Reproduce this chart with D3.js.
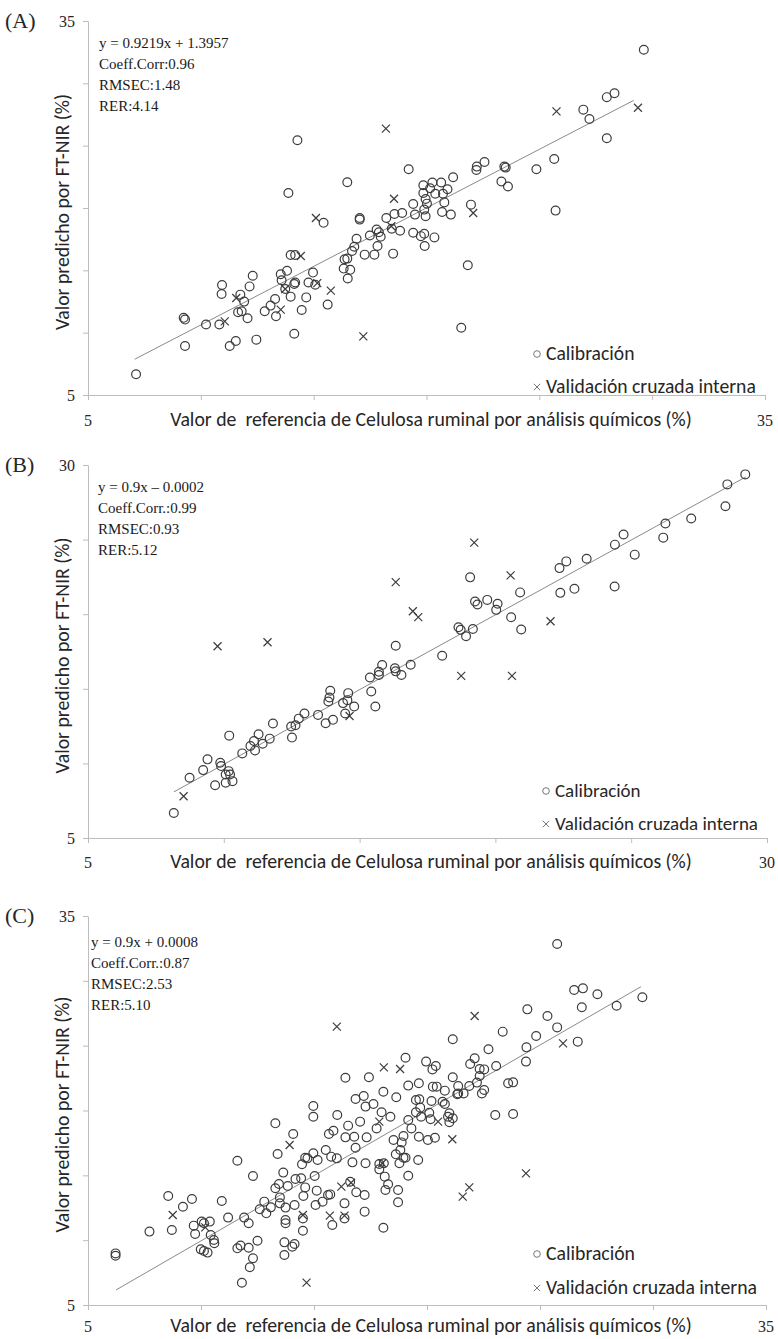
<!DOCTYPE html>
<html>
<head>
<meta charset="utf-8">
<script src="https://cdn.jsdelivr.net/npm/d3@7"></script>
<style>
  body { margin: 0; background: #fff; }
  svg { display: block; }
</style>
</head>
<body>
<svg id="fig" width="778" height="1339"></svg>
<script>
// ---------- data ----------
const panelLetters = ["(A)", "(B)", "(C)"];
const xTitle = "Valor de  referencia de Celulosa ruminal por análisis químicos (%)";
const yTitle = "Valor predicho por FT-NIR (%)";
const legendLabels = ["Calibración", "Validación cruzada interna"];

const statsA = ["y = 0.9219x + 1.3957", "Coeff.Corr:0.96", "RMSEC:1.48", "RER:4.14"];
const statsB = ["y = 0.9x \u2013 0.0002", "Coeff.Corr.:0.99", "RMSEC:0.93", "RER:5.12"];
const statsC = ["y = 0.9x + 0.0008", "Coeff.Corr.:0.87", "RMSEC:2.53", "RER:5.10"];

const ticksA = [5, 10, 15, 20, 25, 30, 35];
const ticksB = [5, 10, 15, 20, 25, 30];
const ticksC = [5, 10, 15, 20, 25, 30, 35];

// fitted line end points [reference, predicted]
const trendA = [[7.07, 7.87], [29.18, 28.63]];
const trendB = [[8.16, 8.09], [29.22, 29.20]];
const trendC = [[6.24, 6.16], [29.47, 29.55]];

// (A) calibration set [reference, predicted]
const calibA = [
  [29.63,32.69],[27.99,28.89],[28.33,29.21],[26.95,27.89],[27.22,27.14],[27.99,25.60],[25.66,23.93],
  [24.87,23.11],[25.72,19.79],[23.45,23.32],[23.51,23.24],[23.32,22.12],[23.61,21.73],[22.23,23.32],
  [22.21,23.05],[22.57,23.69],[21.18,22.47],[20.65,22.04],[20.26,22.04],[19.86,21.83],[20.16,21.59],
  [20.93,21.51],[20.73,21.14],[20.39,21.14],[19.86,21.20],[19.96,20.72],[20.02,20.35],[20.79,20.45],
  [19.41,20.32],[19.90,19.87],[19.49,19.47],[19.96,19.34],[20.69,19.68],[21.08,19.47],[21.97,20.27],
  [19.41,18.01],[19.75,17.74],[19.90,17.93],[19.92,16.95],[20.35,17.64],[19.21,23.11],[18.92,19.60],
  [18.58,19.52],[18.22,19.20],[18.46,18.33],[18.83,18.17],[18.52,16.34],[17.97,17.69],[17.79,18.28],
  [17.89,18.06],[17.83,16.95],[17.49,17.80],[17.69,16.26],[17.26,16.26],[17.04,19.20],[17.04,19.07],
  [16.90,17.53],[16.80,16.89],[16.70,16.55],[16.49,15.94],[16.37,15.89],[16.33,15.14],[16.62,15.04],
  [16.51,14.35],[16.49,22.07],[15.44,18.81],[14.97,14.82],[14.77,14.03],[15.07,13.84],[14.67,12.83],
  [15.62,12.25],[14.28,25.44],[13.88,21.20],[13.98,16.23],[14.18,16.23],[13.82,14.96],[13.54,14.69],
  [13.58,14.21],[14.18,14.03],[14.14,13.90],[13.74,13.50],[13.98,12.89],[13.29,12.70],[13.09,12.17],
  [13.33,11.32],[12.83,11.72],[14.47,11.82],[14.14,9.91],[12.30,14.56],[12.16,13.71],[11.75,13.05],
  [11.92,12.49],[11.65,11.64],[11.81,11.72],[12.07,11.16],[10.94,13.82],[10.92,13.10],[10.82,10.66],
  [10.23,10.66],[9.24,11.19],[9.30,11.05],[9.30,8.93],[11.28,8.93],[11.55,9.33],[12.46,9.44],
  [7.13,6.67],[21.83,15.41],[21.54,10.39]
];
// (A) internal cross validation
const validA = [
  [29.37,28.04],[25.76,27.75],[18.20,26.37],[18.56,20.74],[15.10,19.20],[22.07,19.60],[18.44,18.54],
  [14.43,16.15],[15.16,13.98],[15.76,13.37],[13.74,13.50],[11.57,12.78],[13.54,11.85],[11.06,10.90],
  [17.20,9.70]
];

// (B) calibration set
const calibB = [
  [29.20,29.37],[28.54,28.70],[28.47,27.24],[27.21,26.41],[26.26,26.08],[26.18,25.13],[24.72,25.34],
  [24.40,24.66],[25.13,23.99],[24.39,21.86],[23.36,23.72],[22.61,23.54],[22.36,23.09],[22.91,21.70],
  [22.39,21.43],[20.91,21.46],[20.58,19.80],[20.95,18.97],[20.08,20.70],[20.03,20.29],[19.70,20.96],
  [19.25,20.85],[19.34,20.65],[19.07,22.47],[19.17,19.01],[18.64,19.13],[18.72,18.95],[18.92,18.52],
  [18.04,17.22],[16.88,16.61],[16.33,17.89],[16.30,16.37],[16.33,16.17],[16.54,15.92],[15.83,16.59],
  [15.71,16.14],[15.71,15.92],[15.38,15.76],[15.43,14.82],[15.58,13.81],[14.58,14.71],[14.55,14.24],
  [14.80,13.81],[14.39,14.04],[14.47,13.34],[13.92,14.87],[13.89,14.42],[13.85,14.15],[14.02,12.92],
  [13.75,12.69],[13.47,13.25],[12.97,13.34],[12.76,13.00],[12.64,12.56],[12.48,12.47],[12.51,11.73],
  [11.81,12.67],[11.69,11.66],[11.43,11.32],[11.28,11.95],[11.11,11.50],[11.15,10.87],[10.98,11.17],
  [10.68,10.67],[10.20,11.86],[9.40,10.27],[9.24,9.55],[8.74,9.04],[9.87,10.04],[9.90,9.82],
  [10.07,9.26],[10.18,9.48],[10.23,9.26],[10.07,8.70],[10.32,8.81],[9.68,8.54],[8.16,6.68]
];
// (B) internal cross validation
const validB = [
  [19.22,24.80],[20.56,22.60],[16.33,22.15],[16.96,20.20],[17.16,19.80],[22.03,19.53],[11.61,18.12],
  [9.77,17.85],[18.74,15.87],[20.61,15.87],[14.63,13.18],[8.52,7.80]
];

// (C) calibration set
const calibC = [
  [25.76,32.84],[26.51,29.29],[26.90,29.42],[27.54,28.96],[29.53,28.73],[26.85,27.96],[28.39,28.08],
  [24.44,27.80],[25.33,27.29],[25.76,26.41],[23.35,26.08],[24.83,25.75],[24.40,24.87],[26.67,25.31],
  [24.38,23.77],[22.72,24.72],[23.06,23.43],[21.14,25.49],[22.11,24.02],[21.91,23.59],[22.33,23.20],
  [22.53,23.17],[22.33,22.66],[22.21,22.15],[21.87,21.89],[22.53,21.58],[22.43,21.32],[23.59,22.10],
  [23.81,22.17],[23.02,19.65],[23.81,19.73],[21.14,22.56],[21.38,21.89],[21.38,21.32],[21.62,21.32],
  [21.34,21.25],[20.79,21.53],[20.43,21.84],[20.26,21.84],[20.69,20.68],[20.79,20.50],[20.99,19.78],
  [21.14,19.40],[20.99,19.09],[20.93,19.52],[19.96,23.77],[20.39,23.43],[20.24,23.17],[19.64,22.10],
  [19.17,21.92],[19.51,20.81],[19.66,20.86],[20.20,20.73],[19.51,19.86],[19.74,19.52],[20.10,19.83],
  [20.16,19.32],[19.70,20.22],[19.31,18.62],[19.64,17.98],[20.04,17.72],[20.35,17.90],[19.05,24.07],
  [18.64,21.02],[18.07,21.45],[17.99,19.86],[18.38,19.52],[19.17,19.27],[18.96,18.03],[18.88,17.54],
  [18.52,17.72],[18.82,16.95],[19.05,16.36],[18.96,16.36],[18.62,16.62],[18.78,15.93],[19.61,16.18],
  [17.43,22.56],[17.20,21.12],[16.84,20.89],[17.28,20.30],[17.63,20.50],[17.04,19.14],[17.77,18.62],
  [17.33,17.93],[16.78,17.98],[16.51,18.83],[16.39,17.93],[16.84,17.13],[17.28,15.93],[16.70,16.00],
  [17.89,15.87],[18.09,15.93],[17.89,15.46],[18.13,14.90],[18.28,14.31],[18.16,13.87],[18.72,13.87],
  [18.72,12.92],[19.17,14.97],[16.87,13.69],[16.60,14.51],[17.24,13.48],[17.24,12.20],[16.35,12.84],
  [16.35,11.68],[18.07,10.96],[16.39,22.53],[16.03,19.65],[15.86,18.44],[15.66,18.19],[15.52,16.95],
  [15.76,16.44],[16.01,16.31],[14.97,20.35],[14.97,19.52],[14.97,16.70],[15.16,16.18],[14.71,16.31],
  [14.61,16.36],[14.47,15.85],[15.03,14.95],[14.61,14.07],[15.12,13.82],[14.53,13.41],[15.62,13.48],
  [15.72,13.53],[15.38,12.97],[15.07,12.71],[15.81,11.17],[14.51,11.68],[14.51,10.73],[14.08,18.19],
  [13.29,19.01],[13.39,16.65],[14.43,14.77],[14.18,14.72],[13.64,15.21],[13.45,14.33],[13.29,14.00],
  [13.49,13.30],[13.84,14.18],[13.74,12.51],[14.14,12.71],[13.74,11.56],[13.74,11.30],[13.49,12.84],
  [12.89,12.07],[13.09,12.53],[12.60,12.38],[12.80,12.97],[12.30,14.95],[11.61,16.13],[11.91,11.74],
  [12.11,11.30],[12.50,9.96],[11.75,9.58],[11.61,9.37],[12.11,9.42],[12.30,8.60],[12.16,7.91],
  [11.81,6.72],[13.69,9.83],[14.14,9.70],[14.04,9.50],[13.69,8.86],[10.92,13.02],[11.20,11.74],
  [10.57,10.01],[10.59,9.76],[10.39,11.43],[10.43,10.40],[10.03,11.43],[10.13,11.30],[9.68,11.12],
  [9.74,10.48],[9.99,9.29],[10.13,9.16],[10.29,9.04],[8.55,13.41],[9.20,12.58],[9.60,13.17],
  [8.71,10.78],[7.72,10.66],[6.22,8.98],[6.22,8.80]
];
// (C) internal cross validation
const validC = [
  [16.01,26.47],[22.11,27.29],[26.02,25.18],[18.09,23.33],[18.81,23.20],[17.89,19.14],[20.49,19.14],
  [21.12,17.78],[18.02,15.93],[13.92,17.34],[16.64,14.43],[16.21,14.13],[24.38,15.15],[21.87,14.07],
  [21.58,13.36],[15.70,11.89],[16.35,11.89],[14.51,11.94],[8.75,11.94],[10.19,10.99],[14.67,6.72]
];

// ---------- drawing ----------
const svg = d3.select("#fig");
const serif = "'Liberation Serif','Times New Roman',serif";
const sans = "Carlito, Lato, 'Open Sans', sans-serif";
const axisColor = "#bdbdbd";
const markColor = "#3c3c3c";
const textColor = "#262626";

// scale a text element's font size so it spans the given width
function fitWidth(sel, width) {
  const fs = parseFloat(sel.attr("font-size"));
  const w = sel.node().getComputedTextLength();
  if (w > 0) sel.attr("font-size", (fs * width / w).toFixed(2));
  return sel;
}

const panels = [
  { letter: panelLetters[0], ticks: ticksA, stats: statsA, trend: trendA, calib: calibA, valid: validA,
    left: 88, right: 765, top: 21, bottom: 395, statsTop: 43, statsX: 99,
    xLabelGap: 25, legendY: [353, 386], legendX: 537 },
  { letter: panelLetters[1], ticks: ticksB, stats: statsB, trend: trendB, calib: calibB, valid: validB,
    left: 88, right: 767, top: 465, bottom: 838, statsTop: 487, statsX: 98,
    xLabelGap: 24, legendY: [790, 823], legendX: 546 },
  { letter: panelLetters[2], ticks: ticksC, stats: statsC, trend: trendC, calib: calibC, valid: validC,
    left: 88, right: 766, top: 916, bottom: 1305, statsTop: 942, statsX: 91,
    xLabelGap: 21, legendY: [1253, 1287], legendX: 537 }
];

panels.forEach(p => {
  const lo = p.ticks[0], hi = p.ticks[p.ticks.length - 1];
  const x = d3.scaleLinear().domain([lo, hi]).range([p.left, p.right]);
  const y = d3.scaleLinear().domain([lo, hi]).range([p.bottom, p.top]);
  const g = svg.append("g");

  // axes: light grey lines with outward ticks, labels only at the ends
  const yAxis = g.append("g").attr("transform", `translate(${p.left},0)`)
    .call(d3.axisLeft(y).tickValues(p.ticks).tickSize(5).tickSizeOuter(0).tickFormat(""));
  const xAxis = g.append("g").attr("transform", `translate(0,${p.bottom})`)
    .call(d3.axisBottom(x).tickValues(p.ticks).tickSize(5).tickSizeOuter(0).tickFormat(""));
  [yAxis, xAxis].forEach(a => {
    a.select(".domain").attr("stroke", axisColor).attr("stroke-width", 1);
    a.selectAll(".tick line").attr("stroke", axisColor).attr("stroke-width", 1);
  });

  const endLabels = g.append("g").attr("font-family", serif).attr("font-size", 16).attr("fill", textColor);
  [lo, hi].forEach(v => {
    endLabels.append("text").attr("x", p.left - 13).attr("y", y(v)).attr("dy", "0.35em")
      .attr("text-anchor", "end").text(v);
    endLabels.append("text").attr("x", x(v)).attr("y", p.bottom + p.xLabelGap).attr("dy", "0.35em")
      .attr("text-anchor", "middle").text(v);
  });

  // panel letter
  g.append("text").attr("x", 5).attr("y", p.top).attr("dy", "0.33em")
    .attr("font-family", serif).attr("font-size", 22).attr("fill", textColor).text(p.letter);

  // axis titles
  const xt = g.append("text").attr("x", 431).attr("y", p.bottom + p.xLabelGap).attr("dy", "0.32em")
    .attr("text-anchor", "middle").attr("font-family", sans).attr("font-size", 17)
    .attr("fill", textColor).style("white-space", "pre").text(xTitle);
  fitWidth(xt, 522);
  g.append("text")
    .attr("transform", `translate(62,${(p.top + p.bottom) / 2 + 4}) rotate(-90)`)
    .attr("text-anchor", "middle").attr("dy", "0.35em")
    .attr("font-family", sans).attr("font-size", xt.attr("font-size"))
    .attr("fill", textColor).text(yTitle);

  // regression line
  g.append("line")
    .attr("x1", x(p.trend[0][0])).attr("y1", y(p.trend[0][1]))
    .attr("x2", x(p.trend[1][0])).attr("y2", y(p.trend[1][1]))
    .attr("stroke", "#8a8a8a").attr("stroke-width", 1);

  // calibration points
  g.append("g").selectAll("circle").data(p.calib).join("circle")
    .attr("cx", d => x(d[0])).attr("cy", d => y(d[1])).attr("r", 4.4)
    .attr("fill", "none").attr("stroke", markColor).attr("stroke-width", 1.2);

  // cross-validation points
  const cross = (sel, s) => sel.attr("d", d => {
    const cx = x(d[0]), cy = y(d[1]);
    return `M${cx - s},${cy - s}L${cx + s},${cy + s}M${cx - s},${cy + s}L${cx + s},${cy - s}`;
  });
  g.append("g").selectAll("path").data(p.valid).join("path")
    .call(cross, 4).attr("fill", "none").attr("stroke", markColor).attr("stroke-width", 1.2);

  // fit statistics
  const st = g.append("g").attr("font-family", serif).attr("font-size", 15).attr("fill", "#1a1a1a");
  p.stats.forEach((s, i) => {
    st.append("text").attr("x", p.statsX)
      .attr("y", p.statsTop + i * 21).attr("dy", "0.35em").text(s);
  });

  // legend
  const lg = g.append("g");
  lg.append("circle").attr("cx", p.legendX).attr("cy", p.legendY[0] + 1).attr("r", 3.3)
    .attr("fill", "none").attr("stroke", "#777").attr("stroke-width", 1);
  lg.append("path").attr("d", () => {
    const cx = p.legendX, cy = p.legendY[1] + 1, s = 3.2;
    return `M${cx - s},${cy - s}L${cx + s},${cy + s}M${cx - s},${cy + s}L${cx + s},${cy - s}`;
  }).attr("stroke", "#777").attr("stroke-width", 1);
  legendLabels.forEach((t, i) => {
    const lt = lg.append("text").attr("x", p.legendX + 9).attr("y", p.legendY[i]).attr("dy", "0.35em")
      .attr("font-family", sans).attr("font-size", 17).attr("fill", textColor).text(t);
    if (i === 1) fitWidth(lt, p.right - 9 - (p.legendX + 9));
  });
  // first legend label uses the same size as the second
  const sizes = lg.selectAll("text").nodes().map(n => n.getAttribute("font-size"));
  lg.select("text").attr("font-size", sizes[1]);
});
</script>
</body>
</html>
